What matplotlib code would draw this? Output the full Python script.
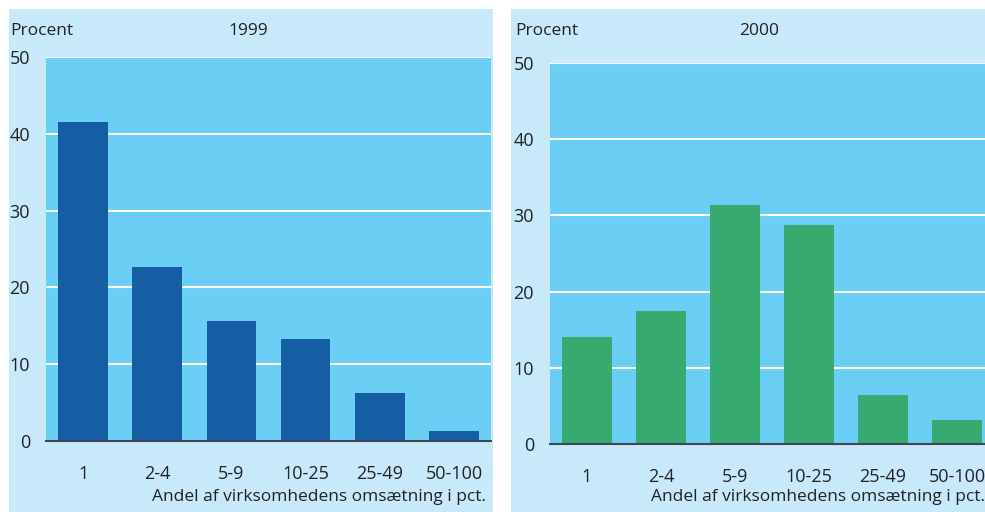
import matplotlib.pyplot as plt
from matplotlib.patches import Rectangle
import numpy as np

kategorier = ['1', '2-4', '5-9', '10-25', '25-49', '50-100']
v1999 = [41.5, 22.7, 15.6, 13.3, 6.2, 1.3]
v2000 = [14.0, 17.4, 31.4, 28.8, 6.4, 3.1]

plt.rcParams['font.family'] = ['Open Sans', 'DejaVu Sans']

W, H = 985, 512
fig = plt.figure(figsize=(W / 100, H / 100), dpi=100, facecolor='white')

bg_lys = '#C7E9F9'
bg_plot = '#6BCEF4'

# baggrundspaneler
fig.patches.append(Rectangle((9 / W, 0), 484 / W, 503 / H, transform=fig.transFigure,
                             facecolor=bg_lys, edgecolor='none', zorder=-5))
fig.patches.append(Rectangle((511 / W, 0), 474 / W, 503 / H, transform=fig.transFigure,
                             facecolor=bg_lys, edgecolor='none', zorder=-5))


def panel(rect, vals, farve, titel, px_left, px_top):
    ax = fig.add_axes(rect)
    ax.set_zorder(2)
    ax.set_facecolor(bg_plot)
    x = np.arange(len(vals))
    ax.bar(x, vals, width=0.67, color=farve, zorder=3)
    ax.set_xlim(-0.5, len(vals) - 0.5)
    ax.set_ylim(0, 50)
    ax.set_yticks([0, 10, 20, 30, 40, 50])
    ax.grid(axis='y', color='white', linewidth=1.5, zorder=1)
    ax.set_axisbelow(True)
    for s in ['top', 'right', 'left']:
        ax.spines[s].set_visible(False)
    ax.spines['bottom'].set_color('#3d4a55')
    ax.spines['bottom'].set_linewidth(1.5)
    ax.spines['bottom'].set_zorder(4)
    ax.tick_params(length=0, labelsize=13, colors='#222222')
    ax.tick_params(axis='y', pad=11.5)
    ax.tick_params(axis='x', pad=17)
    ax.set_xticks(x)
    ax.set_xticklabels(kategorier)
    fig.text(px_left / W, 1 - 31 / H, 'Procent', fontsize=12.5, color='#222222',
             va='center', ha='left')
    fig.text(px_top / W, 1 - 31 / H, titel, fontsize=12.5, color='#222222',
             va='center', ha='center')
    return ax


ax1 = panel([46 / W, (H - 441) / H, 445 / W, 384 / H], v1999, '#155EA3', '1999', 10, 248)
ax2 = panel([550 / W, (H - 444) / H, 444 / W, 381 / H], v2000, '#37AA6F', '2000', 515, 759)

fig.text(486 / W, 1 - 497 / H, 'Andel af virksomhedens omsætning i pct.', fontsize=12.5,
         color='#222222', ha='right', va='center')
fig.text(985 / W, 1 - 497 / H, 'Andel af virksomhedens omsætning i pct.', fontsize=12.5,
         color='#222222', ha='right', va='center')

plt.savefig('out.png', dpi=100, facecolor='white')
